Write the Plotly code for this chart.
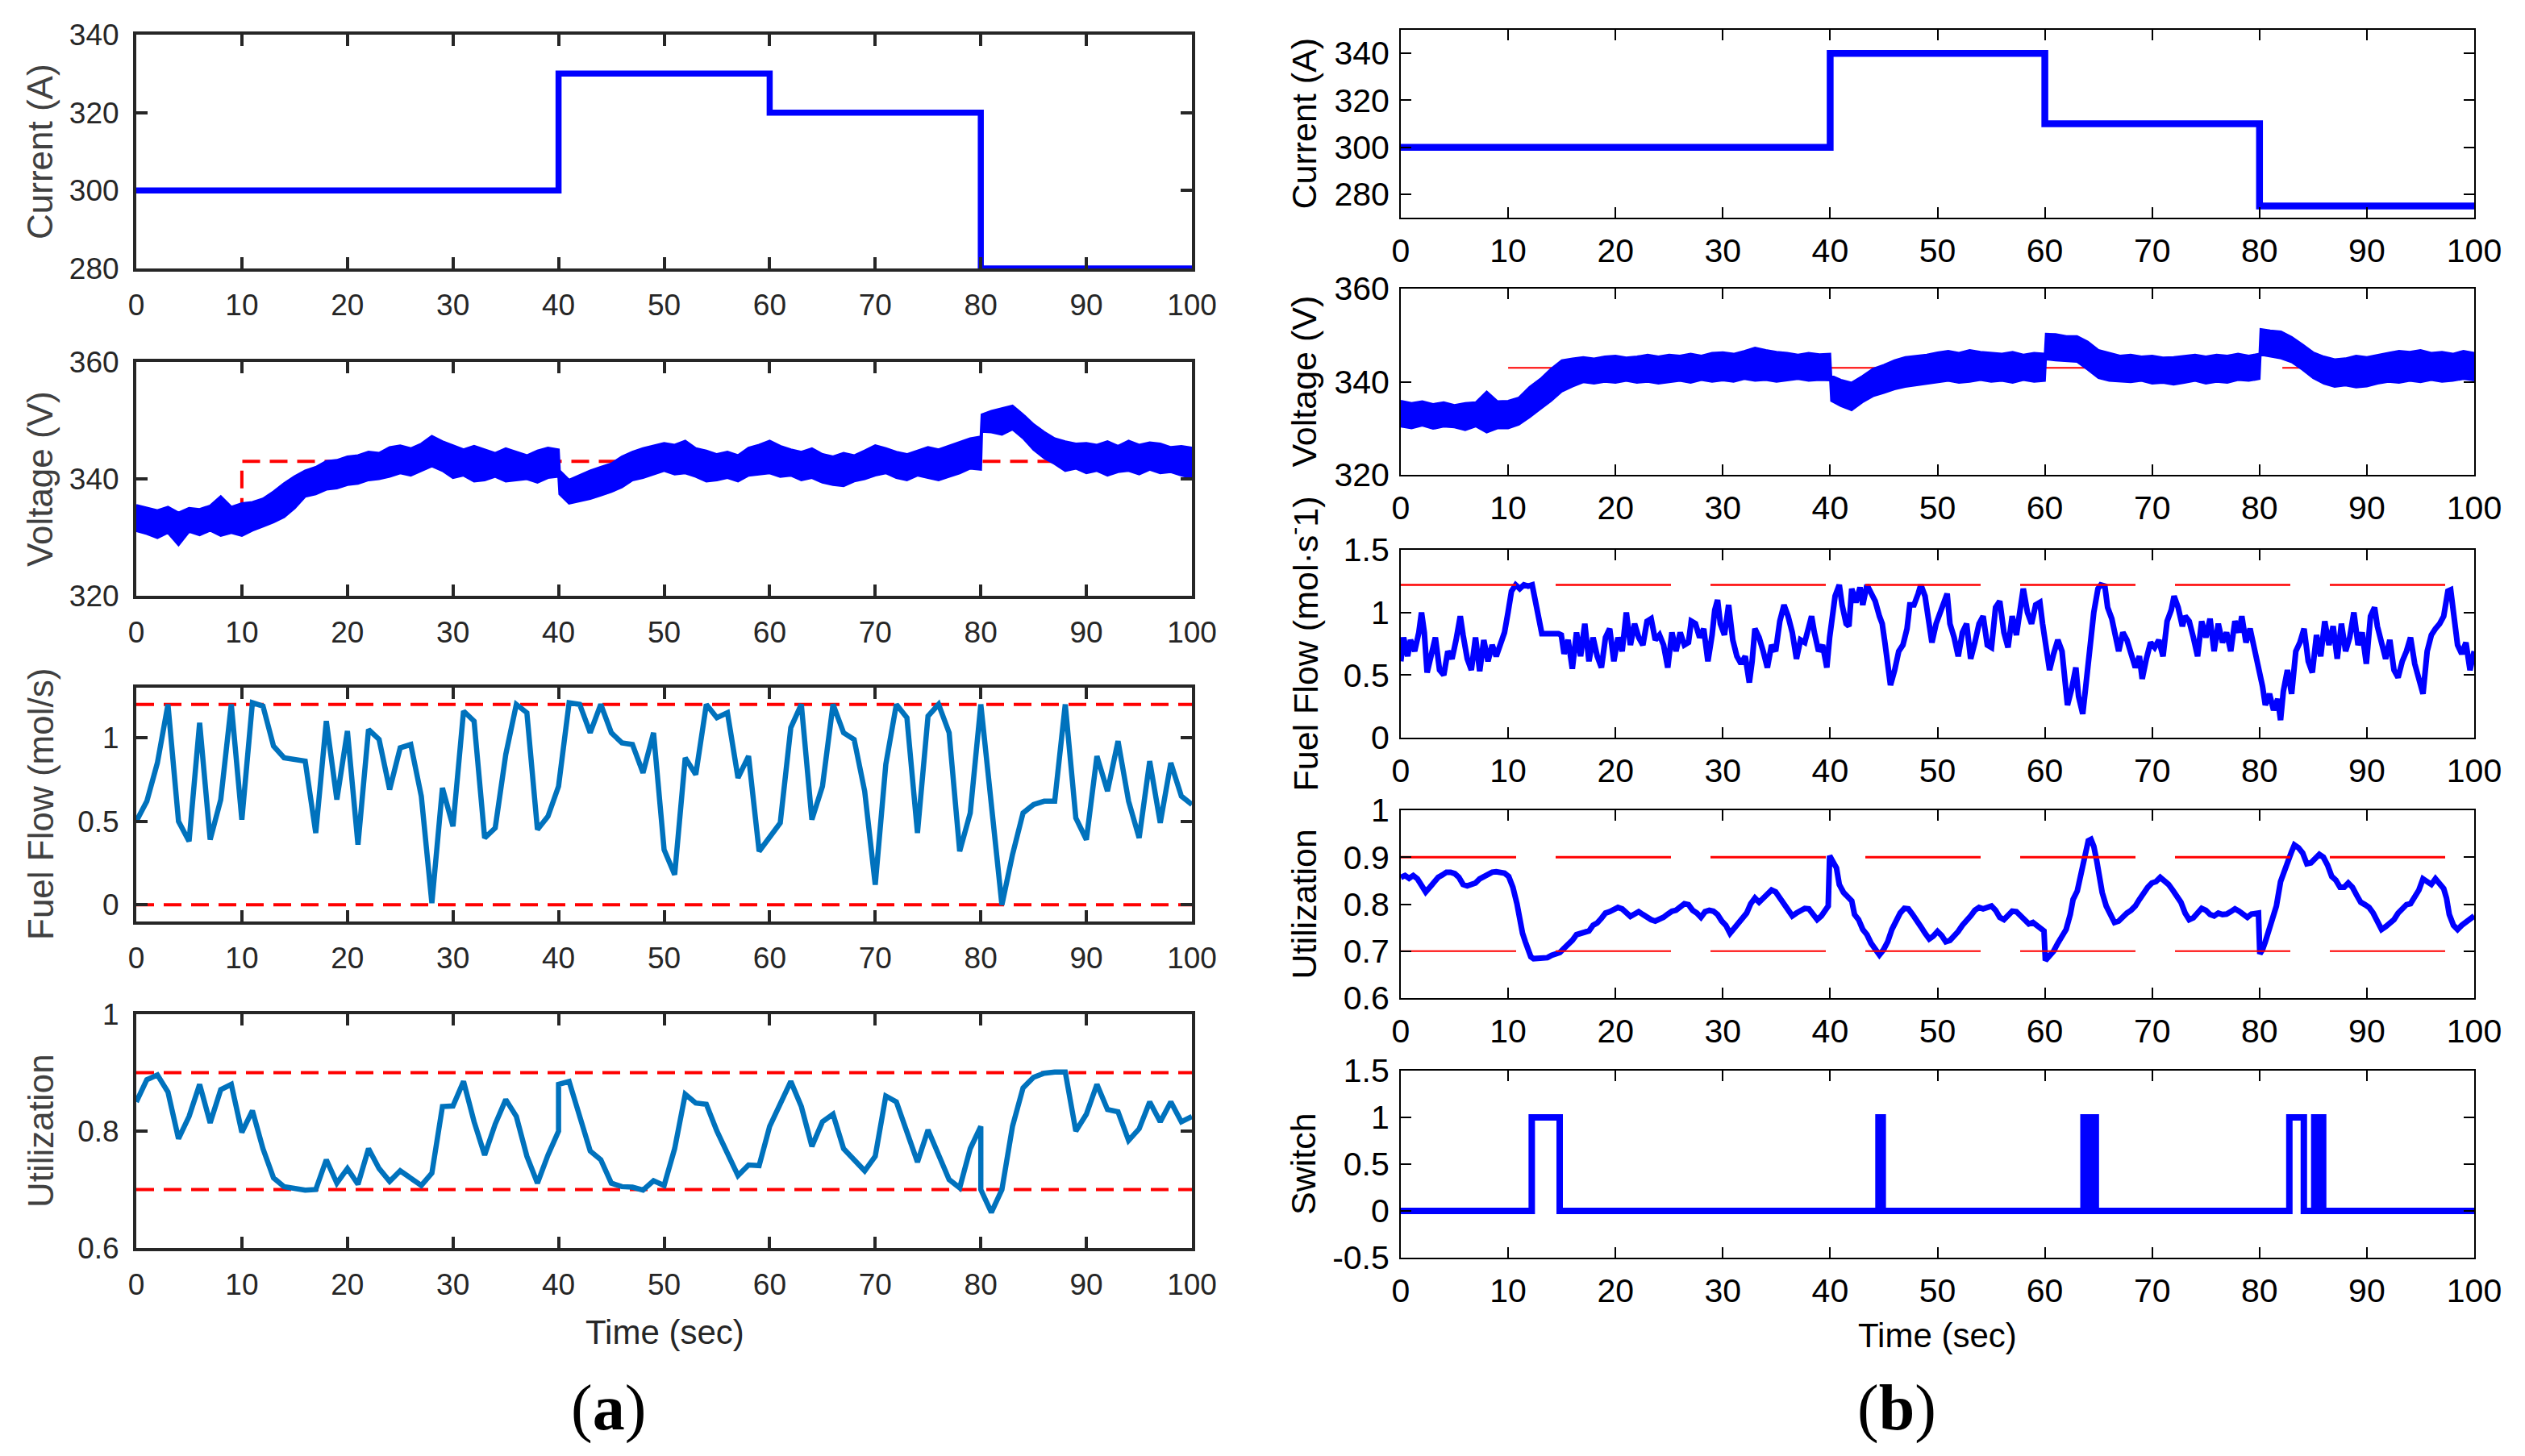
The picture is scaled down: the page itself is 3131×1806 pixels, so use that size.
import plotly.graph_objects as go

# ---------------- data ----------------
# (a) current steps (A)
cur_a_t = [0, 40, 60, 80, 100]
cur_a_v = [300, 330, 320, 280, 280]
# (b) current steps (A)
cur_b_t = [0, 40, 60, 80, 100]
cur_b_v = [300, 340, 310, 275, 275]

# voltage reference (V)
volt_ref_a_t = [0, 10, 10, 100]
volt_ref_a_v = [333, 333, 343, 343]
volt_ref_b_t = [10, 100]
volt_ref_b_v = [343, 343]

# voltage band envelopes: (time, lower, upper)
volt_a = [
    (0, 331.1, 335.5), (1, 330.6, 335.0), (2, 329.9, 334.6), (3, 330.8, 335.2), (4, 328.7, 334.2),
    (5, 331.0, 335.0), (6, 330.4, 334.8), (7, 331.2, 335.4), (8, 330.3, 337.0), (9, 330.8, 335.2),
    (10, 330.3, 335.8), (11, 331.2, 336.0), (12, 331.9, 336.6), (13, 332.6, 337.8), (14, 333.5, 339.2),
    (15, 335.0, 340.4), (16, 337.0, 341.4), (17, 337.4, 342.0), (18, 338.2, 343.0), (19, 338.4, 343.2),
    (20, 339.0, 343.8), (21, 339.2, 344.0), (22, 339.8, 344.6), (23, 340.0, 344.4), (24, 340.4, 345.4),
    (25, 341.0, 345.7), (26, 340.6, 345.2), (27, 341.4, 346.0), (28, 342.2, 347.3), (29, 341.4, 346.4),
    (30, 340.2, 345.7), (31, 340.6, 345.0), (32, 339.6, 345.6), (33, 339.8, 345.0), (34, 340.4, 344.4),
    (35, 339.6, 345.2), (36, 339.8, 344.6), (37, 340.0, 344.0), (38, 339.4, 344.8), (39, 340.2, 345.3),
    (40, 340.4, 345.0), (40.1, 337.4, 341.4), (41, 335.8, 339.8), (42, 336.2, 340.6), (43, 336.6, 341.4),
    (44, 337.2, 342.0), (45, 337.8, 342.6), (46, 338.6, 343.8), (47, 339.8, 344.6), (48, 340.2, 345.2),
    (49, 340.8, 345.6), (50, 341.4, 346.1), (51, 340.8, 345.8), (52, 341.0, 346.5), (53, 340.4, 345.2),
    (54, 339.6, 344.8), (55, 339.8, 344.2), (56, 340.2, 344.6), (57, 339.6, 344.0), (58, 340.6, 345.3),
    (59, 340.8, 345.8), (60, 341.0, 346.5), (61, 340.4, 345.6), (62, 340.6, 345.0), (63, 339.8, 344.6),
    (64, 340.2, 345.2), (65, 339.4, 344.2), (66, 339.0, 343.8), (67, 338.8, 344.4), (68, 339.6, 344.0),
    (69, 340.0, 344.8), (70, 340.6, 345.7), (71, 341.0, 345.2), (72, 340.2, 344.6), (73, 339.8, 344.2),
    (74, 340.6, 344.8), (75, 340.2, 345.4), (76, 339.8, 345.0), (77, 340.4, 345.6), (78, 341.0, 346.2),
    (79, 341.8, 346.9), (80, 341.6, 347.2), (80.1, 348.1, 351.0), (81, 348.0, 351.6), (82, 347.6, 352.0),
    (83, 348.5, 352.5), (84, 347.0, 351.0), (85, 345.0, 349.3), (86, 343.6, 348.0), (87, 342.6, 346.9),
    (88, 341.4, 346.4), (89, 341.8, 346.0), (90, 341.0, 346.1), (91, 341.4, 345.8), (92, 340.6, 346.4),
    (93, 341.2, 345.6), (94, 341.4, 346.5), (95, 340.8, 345.8), (96, 341.6, 346.2), (97, 341.0, 346.0),
    (98, 341.2, 345.4), (99, 340.6, 345.6), (100, 340.2, 345.3),
]
volt_b = [
    (0, 330.4, 335.9), (1, 330.0, 335.4), (2, 330.6, 335.8), (3, 329.9, 335.2), (4, 330.4, 335.6),
    (5, 330.2, 335.0), (6, 329.6, 335.4), (7, 330.4, 335.6), (8, 329.1, 337.9), (9, 330.0, 335.8),
    (10, 330.0, 335.9), (11, 330.8, 336.6), (12, 332.4, 338.9), (13, 334.2, 340.6), (14, 335.9, 342.8),
    (15, 337.9, 344.6), (16, 339.0, 345.0), (17, 339.9, 345.3), (18, 339.6, 345.0), (19, 340.0, 345.4),
    (20, 339.8, 345.6), (21, 340.2, 345.2), (22, 339.8, 345.4), (23, 340.0, 345.8), (24, 339.6, 345.4),
    (25, 339.9, 345.8), (26, 340.2, 345.6), (27, 339.8, 346.0), (28, 340.4, 345.6), (29, 340.0, 346.2),
    (30, 340.3, 346.3), (31, 340.0, 346.0), (32, 340.6, 346.6), (33, 340.2, 347.3), (34, 340.4, 346.8),
    (35, 340.0, 346.4), (36, 340.3, 346.2), (37, 340.6, 345.8), (38, 340.2, 346.2), (39, 340.4, 345.9),
    (40, 340.3, 346.0), (40.1, 335.9, 341.3), (41, 334.8, 340.4), (42, 333.9, 339.8), (43, 335.6, 341.2),
    (44, 336.9, 342.8), (45, 337.6, 343.6), (46, 338.4, 344.6), (47, 338.9, 345.3), (48, 339.2, 345.6),
    (49, 339.6, 345.8), (50, 339.9, 346.3), (51, 340.2, 346.6), (52, 339.8, 346.2), (53, 340.0, 346.8),
    (54, 340.4, 346.4), (55, 340.0, 346.2), (56, 340.2, 346.0), (57, 339.8, 346.4), (58, 340.4, 345.8),
    (59, 340.0, 346.2), (60, 340.2, 346.0), (60.1, 344.8, 350.3), (61, 344.6, 350.2), (62, 344.4, 349.8),
    (63, 344.3, 349.8), (64, 342.6, 348.6), (65, 340.8, 346.8), (66, 340.2, 346.2), (67, 340.0, 345.6),
    (68, 339.9, 345.8), (69, 340.2, 345.4), (70, 339.6, 345.6), (71, 339.8, 345.2), (72, 339.4, 345.3),
    (73, 339.8, 345.6), (74, 340.2, 345.8), (75, 339.6, 345.4), (76, 340.0, 345.8), (77, 339.8, 345.6),
    (78, 340.4, 346.0), (79, 340.2, 345.6), (80, 340.6, 346.0), (80.1, 345.8, 351.3), (81, 345.4, 351.0),
    (82, 345.0, 350.8), (83, 344.2, 349.6), (84, 342.6, 348.0), (85, 340.8, 346.3), (86, 339.6, 345.4),
    (87, 338.9, 344.8), (88, 339.2, 345.0), (89, 338.8, 345.6), (90, 339.0, 345.3), (91, 339.6, 345.8),
    (92, 340.0, 346.2), (93, 339.8, 346.6), (94, 340.2, 346.4), (95, 339.9, 346.8), (96, 340.4, 346.2),
    (97, 340.0, 346.4), (98, 340.2, 346.0), (99, 340.6, 346.6), (100, 340.3, 346.2),
]

# (a) fuel flow (mol/s), one sample per second
fuel_a_t = list(range(0, 101))
fuel_a_v = [
    0.50, 0.62, 0.85, 1.20, 0.50, 0.38, 1.09, 0.39, 0.63, 1.20,
    0.51, 1.21, 1.19, 0.95, 0.88, 0.87, 0.86, 0.43, 1.10, 0.63,
    1.04, 0.36, 1.05, 0.99, 0.69, 0.94, 0.96, 0.65, 0.01, 0.70,
    0.47, 1.16, 1.10, 0.40, 0.46, 0.90, 1.20, 1.15, 0.45, 0.53,
    0.71, 1.21, 1.20, 1.03, 1.20, 1.03, 0.97, 0.96, 0.79, 1.03,
    0.33, 0.18, 0.88, 0.78, 1.20, 1.12, 1.15, 0.76, 0.89, 0.32,
    0.41, 0.49, 1.06, 1.20, 0.51, 0.71, 1.20, 1.03, 0.99, 0.68,
    0.12, 0.84, 1.20, 1.12, 0.43, 1.13, 1.20, 1.03, 0.32, 0.55,
    1.20, 0.60, 0.00, 0.30, 0.55, 0.60, 0.62, 0.62, 1.20, 0.52,
    0.39, 0.89, 0.68, 0.98, 0.62, 0.40, 0.86, 0.49, 0.85, 0.65,
    0.60,
]
fuel_a_limits = [0.0, 1.2]

# (a) utilization, one sample per second (steps at 40 s and 80 s)
util_a_t = (list(range(0, 41)) + [40] + list(range(41, 81)) + [80] + list(range(81, 101)))
util_a_v = [
    0.850, 0.888, 0.896, 0.867, 0.787, 0.825, 0.880, 0.814, 0.871, 0.880,
    0.798, 0.835, 0.770, 0.720, 0.705, 0.703, 0.699, 0.700, 0.751, 0.711,
    0.736, 0.709, 0.770, 0.736, 0.714, 0.732, 0.720, 0.707, 0.728, 0.842,
    0.843, 0.885, 0.816, 0.759, 0.812, 0.854, 0.825, 0.757, 0.711, 0.759,
    0.800, 0.880,
    0.885, 0.825, 0.766, 0.751, 0.711, 0.705, 0.704, 0.699, 0.715,
    0.707, 0.770, 0.863, 0.848, 0.846, 0.800, 0.762, 0.724, 0.742, 0.741,
    0.808, 0.846, 0.885, 0.842, 0.774, 0.816, 0.829, 0.770, 0.751, 0.732,
    0.757, 0.860, 0.850, 0.795, 0.747, 0.802, 0.762, 0.717, 0.703, 0.770,
    0.808, 0.700,
    0.661, 0.700, 0.808, 0.874, 0.892, 0.899, 0.901, 0.901, 0.800,
    0.829, 0.880, 0.837, 0.833, 0.784, 0.804, 0.850, 0.816, 0.850, 0.816,
    0.825,
]
util_a_limits = [0.7, 0.9]

# (b) fuel flow (mol/s): (time, value)
fuel_b = [
    (0.0, 0.61), (0.26, 0.80), (0.64, 0.65), (0.90, 0.78), (1.29, 0.69), (1.68, 0.84), (1.93, 1.00),
    (2.19, 0.84), (2.45, 0.52), (2.84, 0.65), (3.22, 0.80), (3.61, 0.54), (4.0, 0.50), (4.38, 0.69),
    (4.77, 0.63), (5.15, 0.78), (5.54, 0.97), (5.80, 0.82), (6.19, 0.63), (6.57, 0.54), (6.96, 0.80),
    (7.35, 0.53), (7.73, 0.78), (8.12, 0.61), (8.51, 0.74), (8.89, 0.65), (9.28, 0.76), (9.66, 0.84),
    (9.99, 1.00), (10.31, 1.17), (10.70, 1.22), (11.08, 1.19), (11.47, 1.22), (11.86, 1.21),
    (12.24, 1.22), (12.63, 1.06), (12.89, 0.91), (13.14, 0.83), (14.69, 0.83), (14.95, 0.82),
    (15.21, 0.67), (15.59, 0.78), (15.98, 0.55), (16.37, 0.84), (16.75, 0.65), (17.14, 0.91),
    (17.53, 0.61), (17.91, 0.80), (18.30, 0.65), (18.69, 0.56), (19.07, 0.80), (19.46, 0.87),
    (19.85, 0.61), (20.23, 0.80), (20.62, 0.69), (21.01, 1.00), (21.39, 0.74), (21.78, 0.91),
    (22.16, 0.80), (22.55, 0.74), (22.94, 0.93), (23.32, 0.95), (23.71, 0.78), (24.10, 0.82),
    (24.48, 0.74), (24.87, 0.56), (25.26, 0.84), (25.64, 0.69), (26.03, 0.84), (26.42, 0.74),
    (26.80, 0.76), (27.06, 0.93), (27.45, 0.91), (27.84, 0.80), (28.22, 0.87), (28.61, 0.61),
    (29.00, 0.82), (29.25, 1.02), (29.51, 1.10), (29.77, 0.91), (30.15, 0.82), (30.54, 1.06),
    (30.93, 0.78), (31.31, 0.65), (31.70, 0.59), (32.09, 0.65), (32.47, 0.44), (32.73, 0.61),
    (32.99, 0.87), (33.38, 0.80), (33.76, 0.69), (34.15, 0.56), (34.54, 0.74), (34.92, 0.69),
    (35.31, 0.93), (35.70, 1.06), (36.08, 0.97), (36.47, 0.84), (36.86, 0.63), (37.24, 0.78),
    (37.63, 0.76), (38.02, 0.89), (38.27, 0.97), (38.53, 0.84), (38.92, 0.69), (39.30, 0.74),
    (39.69, 0.56), (39.95, 0.80), (40.21, 0.95), (40.46, 1.13), (40.85, 1.22), (41.11, 1.06),
    (41.49, 0.91), (41.75, 0.89), (42.01, 1.19), (42.40, 1.08), (42.78, 1.20), (43.04, 1.06),
    (43.43, 1.22), (43.81, 1.15), (44.20, 1.09), (44.59, 0.97), (44.85, 0.91), (45.10, 0.76),
    (45.36, 0.56), (45.62, 0.42), (46.01, 0.54), (46.39, 0.69), (46.78, 0.74), (47.16, 0.87),
    (47.42, 1.06), (47.81, 1.06), (48.20, 1.15), (48.45, 1.22), (48.84, 1.13), (49.10, 0.95),
    (49.48, 0.76), (49.87, 0.91), (50.26, 1.00), (50.52, 1.09), (50.90, 1.15), (51.16, 0.91),
    (51.55, 0.80), (51.93, 0.65), (52.32, 0.84), (52.71, 0.91), (53.09, 0.63), (53.48, 0.76),
    (53.87, 0.91), (54.25, 0.97), (54.64, 0.74), (55.03, 0.72), (55.41, 1.04), (55.80, 1.09),
    (56.19, 0.84), (56.57, 0.72), (56.96, 0.97), (57.35, 0.82), (57.73, 1.06), (57.99, 1.19),
    (58.38, 1.00), (58.76, 0.91), (59.15, 1.06), (59.54, 1.08), (59.79, 0.91), (60.18, 0.69),
    (60.44, 0.54), (60.82, 0.67), (61.21, 0.78), (61.60, 0.69), (61.86, 0.44), (62.11, 0.26),
    (62.50, 0.39), (62.89, 0.56), (63.14, 0.33), (63.53, 0.19), (63.79, 0.39), (64.18, 0.74),
    (64.56, 1.00), (64.95, 1.19), (65.21, 1.22), (65.59, 1.21), (65.85, 1.04), (66.24, 0.95),
    (66.49, 0.84), (66.88, 0.69), (67.27, 0.84), (67.65, 0.78), (68.04, 0.67), (68.43, 0.56),
    (68.81, 0.65), (69.07, 0.47), (69.46, 0.63), (69.85, 0.76), (70.23, 0.72), (70.62, 0.78),
    (71.01, 0.65), (71.39, 0.93), (71.78, 1.02), (72.04, 1.13), (72.42, 1.04), (72.81, 0.89),
    (73.07, 0.97), (73.45, 0.93), (73.84, 0.80), (74.23, 0.65), (74.61, 0.93), (75.00, 0.80),
    (75.39, 0.95), (75.77, 0.69), (76.16, 0.91), (76.55, 0.76), (76.93, 0.84), (77.32, 0.69),
    (77.71, 0.93), (78.09, 0.84), (78.35, 0.97), (78.74, 0.76), (79.12, 0.87), (79.51, 0.72),
    (79.90, 0.56), (80.28, 0.41), (80.54, 0.26), (80.93, 0.35), (81.31, 0.22), (81.70, 0.31),
    (81.96, 0.14), (82.22, 0.37), (82.60, 0.54), (82.99, 0.35), (83.38, 0.69), (83.76, 0.76),
    (84.15, 0.87), (84.54, 0.61), (84.92, 0.52), (85.31, 0.82), (85.70, 0.65), (86.08, 0.93),
    (86.47, 0.74), (86.86, 0.89), (87.24, 0.63), (87.63, 0.91), (88.02, 0.69), (88.40, 0.80),
    (88.79, 1.00), (89.18, 0.74), (89.56, 0.84), (89.95, 0.59), (90.34, 0.97), (90.72, 1.04),
    (90.98, 0.89), (91.37, 0.76), (91.75, 0.63), (92.14, 0.78), (92.53, 0.54), (92.91, 0.48),
    (93.30, 0.61), (93.69, 0.69), (94.07, 0.80), (94.46, 0.59), (94.85, 0.46), (95.23, 0.35),
    (95.62, 0.69), (96.01, 0.82), (96.39, 0.87), (96.78, 0.91), (97.16, 0.97), (97.55, 1.17),
    (97.81, 1.18), (98.07, 1.02), (98.45, 0.74), (98.84, 0.67), (99.23, 0.76), (99.61, 0.54),
    (100.0, 0.69),
]
fuel_b_limit = 1.22

# (b) utilization: (time, value)
util_b = [
    (0.0, 0.857), (0.39, 0.861), (0.77, 0.855), (1.16, 0.861), (1.55, 0.854), (1.93, 0.842),
    (2.32, 0.826), (2.71, 0.836), (3.09, 0.848), (3.48, 0.857), (3.87, 0.862), (4.25, 0.868),
    (4.64, 0.868), (5.03, 0.865), (5.41, 0.857), (5.80, 0.842), (6.19, 0.839), (6.57, 0.841),
    (6.96, 0.845), (7.35, 0.854), (7.73, 0.859), (8.12, 0.865), (8.51, 0.868), (8.89, 0.869),
    (9.28, 0.868), (9.66, 0.866), (10.05, 0.859), (10.44, 0.836), (10.82, 0.801), (11.08, 0.767),
    (11.34, 0.738), (11.60, 0.720), (11.86, 0.703), (12.11, 0.688), (12.37, 0.684), (13.02, 0.684),
    (13.66, 0.686), (14.05, 0.691), (14.43, 0.694), (14.82, 0.697), (15.21, 0.706), (15.59, 0.714),
    (15.98, 0.723), (16.37, 0.735), (16.75, 0.738), (17.14, 0.741), (17.53, 0.743), (17.91, 0.755),
    (18.30, 0.760), (18.69, 0.770), (19.07, 0.781), (19.46, 0.784), (19.85, 0.790), (20.23, 0.793),
    (20.62, 0.790), (21.01, 0.781), (21.39, 0.774), (21.78, 0.779), (22.16, 0.784), (22.55, 0.778),
    (22.94, 0.771), (23.32, 0.767), (23.71, 0.764), (24.10, 0.767), (24.48, 0.772), (24.87, 0.779),
    (25.26, 0.785), (25.64, 0.787), (26.03, 0.793), (26.42, 0.801), (26.80, 0.799), (27.19, 0.787),
    (27.58, 0.781), (27.96, 0.772), (28.35, 0.784), (28.74, 0.787), (29.12, 0.785), (29.51, 0.778),
    (29.90, 0.764), (30.28, 0.755), (30.67, 0.738), (31.06, 0.750), (31.44, 0.761), (31.83, 0.770),
    (32.22, 0.781), (32.60, 0.801), (32.99, 0.813), (33.38, 0.804), (33.76, 0.813), (34.15, 0.822),
    (34.54, 0.830), (34.92, 0.826), (35.31, 0.813), (35.70, 0.804), (36.08, 0.787), (36.47, 0.775),
    (36.86, 0.781), (37.24, 0.787), (37.63, 0.791), (38.02, 0.790), (38.40, 0.778), (38.79, 0.767),
    (39.18, 0.775), (39.56, 0.787), (39.82, 0.796), (39.95, 0.903), (40.21, 0.894), (40.59, 0.877),
    (40.85, 0.842), (41.24, 0.825), (41.62, 0.816), (42.01, 0.807), (42.27, 0.778), (42.65, 0.767),
    (43.04, 0.746), (43.43, 0.735), (43.81, 0.717), (44.20, 0.706), (44.59, 0.692), (44.97, 0.703),
    (45.36, 0.720), (45.75, 0.746), (46.13, 0.767), (46.52, 0.781), (46.91, 0.791), (47.29, 0.790),
    (47.68, 0.778), (48.07, 0.767), (48.45, 0.752), (48.84, 0.738), (49.23, 0.726), (49.61, 0.732),
    (50.00, 0.742), (50.39, 0.733), (50.77, 0.720), (51.16, 0.723), (51.55, 0.732), (51.93, 0.742),
    (52.32, 0.755), (52.71, 0.764), (53.09, 0.775), (53.48, 0.787), (53.87, 0.793), (54.25, 0.790),
    (54.64, 0.793), (55.03, 0.796), (55.41, 0.787), (55.80, 0.772), (56.19, 0.767), (56.57, 0.778),
    (56.96, 0.785), (57.35, 0.784), (57.73, 0.775), (58.12, 0.767), (58.51, 0.758), (58.89, 0.761),
    (59.28, 0.755), (59.66, 0.746), (59.92, 0.743), (60.05, 0.680), (60.44, 0.691), (60.82, 0.700),
    (61.21, 0.717), (61.60, 0.732), (61.98, 0.746), (62.37, 0.778), (62.63, 0.810), (63.02, 0.828),
    (63.27, 0.854), (63.53, 0.891), (63.79, 0.920), (64.05, 0.935), (64.30, 0.938), (64.56, 0.923),
    (64.82, 0.894), (65.08, 0.857), (65.34, 0.825), (65.72, 0.796), (66.11, 0.778), (66.49, 0.761),
    (66.88, 0.764), (67.27, 0.775), (67.65, 0.781), (68.04, 0.787), (68.43, 0.796), (68.81, 0.810),
    (69.20, 0.825), (69.59, 0.836), (69.97, 0.845), (70.36, 0.848), (70.75, 0.857), (71.13, 0.851),
    (71.52, 0.842), (71.91, 0.830), (72.29, 0.819), (72.68, 0.804), (73.07, 0.781), (73.45, 0.767),
    (73.84, 0.771), (74.23, 0.781), (74.61, 0.791), (75.00, 0.787), (75.39, 0.778), (75.77, 0.775),
    (76.16, 0.781), (76.55, 0.778), (76.93, 0.779), (77.32, 0.784), (77.71, 0.790), (78.09, 0.785),
    (78.48, 0.778), (78.87, 0.772), (79.25, 0.779), (79.64, 0.781), (79.90, 0.781), (80.03, 0.694),
    (80.28, 0.703), (80.54, 0.720), (80.80, 0.738), (81.19, 0.761), (81.57, 0.796), (81.96, 0.848),
    (82.22, 0.868), (82.60, 0.888), (82.99, 0.912), (83.25, 0.926), (83.63, 0.920), (84.02, 0.909),
    (84.41, 0.886), (84.79, 0.888), (85.18, 0.897), (85.57, 0.906), (85.95, 0.900), (86.34, 0.883),
    (86.73, 0.859), (87.11, 0.851), (87.50, 0.836), (87.89, 0.836), (88.27, 0.845), (88.66, 0.836),
    (89.05, 0.819), (89.43, 0.804), (89.82, 0.799), (90.21, 0.793), (90.59, 0.781), (90.98, 0.761),
    (91.37, 0.746), (91.75, 0.752), (92.14, 0.758), (92.53, 0.767), (92.91, 0.781), (93.30, 0.790),
    (93.69, 0.799), (94.07, 0.801), (94.46, 0.813), (94.85, 0.830), (95.23, 0.854), (95.62, 0.848),
    (96.01, 0.842), (96.39, 0.854), (96.78, 0.845), (97.16, 0.833), (97.42, 0.813), (97.68, 0.778),
    (98.07, 0.755), (98.45, 0.746), (98.84, 0.755), (99.23, 0.761), (99.61, 0.767), (100.0, 0.775),
]
util_b_limits = [0.7, 0.9]

# (b) switch state
switch_t = [0, 12.2, 14.8, 44.5, 44.9, 63.6, 63.77, 63.85, 64.15, 64.25, 64.75,
            82.78, 84.13, 85.1, 85.45, 85.55, 85.93, 100]
switch_v = [0, 1, 0, 1, 0, 1, 0, 1, 0, 1, 0, 1, 0, 1, 0, 1, 0, 0]

# ---------------- styling ----------------
SANS = "Liberation Sans, Arial, Helvetica, sans-serif"
SERIF = "Liberation Serif, Times New Roman, serif"
MAT_BLUE = "#0072BD"
BLUE = "#0000FF"
RED = "#FF0000"
INK_A = "#262626"

fig = go.Figure()


def line(x, y, ax, color, width, dash=None, shape="linear"):
    fig.add_trace(go.Scatter(
        x=x, y=y, mode="lines", xaxis="x" + ax, yaxis="y" + ax,
        line=dict(color=color, width=width, dash=dash, shape=shape),
        hoverinfo="skip", showlegend=False,
    ))


def band(samples, ax, width):
    t = [s[0] for s in samples]
    lo = [s[1] for s in samples]
    hi = [s[2] for s in samples]
    fig.add_trace(go.Scatter(x=t, y=lo, mode="lines", xaxis="x" + ax, yaxis="y" + ax,
                             line=dict(color=BLUE, width=width), showlegend=False,
                             hoverinfo="skip"))
    fig.add_trace(go.Scatter(x=t, y=hi, mode="lines", xaxis="x" + ax, yaxis="y" + ax,
                             line=dict(color=BLUE, width=width), fill="tonexty",
                             fillcolor=BLUE, showlegend=False, hoverinfo="skip"))


DASH_A = "22px,12px"
DASH_B = "143px,49px"

# ---- panel (a) ----
line(cur_a_t, cur_a_v, "", BLUE, 7.5, shape="hv")

line(volt_ref_a_t, volt_ref_a_v, "2", RED, 4, dash=DASH_A)
band(volt_a, "2", 3)

for lim in fuel_a_limits:
    line([0, 100], [lim, lim], "3", RED, 4, dash=DASH_A)
line(fuel_a_t, fuel_a_v, "3", MAT_BLUE, 6.5)

for lim in util_a_limits:
    line([0, 100], [lim, lim], "4", RED, 4, dash=DASH_A)
line(util_a_t, util_a_v, "4", MAT_BLUE, 6.5)

# ---- panel (b) ----
line(cur_b_t, cur_b_v, "5", BLUE, 8.5, shape="hv")

line(volt_ref_b_t, volt_ref_b_v, "6", RED, 2, dash=DASH_B)
band(volt_b, "6", 2.5)

line([s[0] for s in fuel_b], [s[1] for s in fuel_b], "7", BLUE, 7)
line([0, 100], [fuel_b_limit, fuel_b_limit], "7", RED, 2.6, dash=DASH_B)

line([s[0] for s in util_b], [s[1] for s in util_b], "8", BLUE, 7)
line([0, 100], [util_b_limits[1], util_b_limits[1]], "8", RED, 2.8, dash=DASH_B)
line([0, 100], [util_b_limits[0], util_b_limits[0]], "8", RED, 1.8, dash=DASH_B)

line(switch_t, switch_v, "9", BLUE, 8, shape="hv")

# ---------------- axes ----------------
W, H = 3131, 1806
OX, OY = 8, 10   # page offset of the plot div inside the browser window


def px_x(a, b):
    return [(a - OX) / W, (b - OX) / W]


def px_y(top, bottom):
    return [1 - (bottom - OY) / H, 1 - (top - OY) / H]


def axis_a(**kw):
    d = dict(showline=True, linecolor=INK_A, linewidth=4, mirror="ticks",
             ticks="inside", ticklen=14, tickwidth=4, tickcolor=INK_A,
             showgrid=False, zeroline=False, automargin=False,
             tickfont=dict(family=SANS, size=37, color=INK_A))
    d.update(kw)
    return d


def axis_b(**kw):
    d = dict(showline=True, linecolor="black", linewidth=2, mirror="ticks",
             ticks="inside", ticklen=13, tickwidth=2, tickcolor="black",
             showgrid=False, zeroline=False, automargin=False,
             tickfont=dict(family=SANS, size=41, color="black"))
    d.update(kw)
    return d


XA = px_x(169, 1478)
XB = px_x(1737, 3068)
ya_px = [(45, 335), (451, 741), (855, 1145), (1260, 1550)]
yb_px = [(39, 272), (360, 591), (684, 917), (1007, 1240), (1330, 1562)]
ya_dom = [px_y(*p) for p in ya_px]
yb_dom = [px_y(*p) for p in yb_px]

layout_axes = {}
a_ranges = [
    dict(range=[280, 340], tickvals=[280, 300, 320, 340], layer="below traces"),
    dict(range=[320, 360], tickvals=[320, 340, 360]),
    dict(range=[-0.1, 1.3], tickvals=[0, 0.5, 1]),
    dict(range=[0.6, 1.0], tickvals=[0.6, 0.8, 1.0], ticktext=["0.6", "0.8", "1"]),
]
for i, (dom, yr) in enumerate(zip(ya_dom, a_ranges)):
    n = "" if i == 0 else str(i + 1)
    layout_axes["xaxis" + n] = axis_a(domain=XA, range=[0, 100], tickvals=list(range(0, 101, 10)),
                                     anchor="y" + n, ticklabelstandoff=10)
    layout_axes["yaxis" + n] = axis_a(domain=dom, anchor="x" + n, ticklabelstandoff=10, **yr)

b_ranges = [
    dict(range=[270, 350], tickvals=[280, 300, 320, 340]),
    dict(range=[320, 360], tickvals=[320, 340, 360]),
    dict(range=[0, 1.5], tickvals=[0, 0.5, 1, 1.5]),
    dict(range=[0.6, 1.0], tickvals=[0.6, 0.7, 0.8, 0.9, 1.0],
         ticktext=["0.6", "0.7", "0.8", "0.9", "1"]),
    dict(range=[-0.5, 1.5], tickvals=[-0.5, 0, 0.5, 1, 1.5],
         ticktext=["-0.5", "0", "0.5", "1", "1.5"]),
]
for j, (dom, yr) in enumerate(zip(yb_dom, b_ranges)):
    n = str(j + 5)
    layout_axes["xaxis" + n] = axis_b(domain=XB, range=[0, 100], tickvals=list(range(0, 101, 10)),
                                     anchor="y" + n, ticklabelstandoff=4)
    layout_axes["yaxis" + n] = axis_b(domain=dom, anchor="x" + n, ticklabelstandoff=4, **yr)

# ---------------- labels ----------------
annotations = []


def label(text, x_px, y_px, size, color, family=SANS, angle=0):
    annotations.append(dict(text=text, x=(x_px - OX) / W, y=1 - (y_px - OY) / H,
                            xref="paper", yref="paper",
                            xanchor="center", yanchor="middle", showarrow=False,
                            textangle=angle, font=dict(family=family, size=size, color=color)))


ylab_a = ["Current (A)", "Voltage (V)", "Fuel Flow (mol/s)", "Utilization"]
for txt, (top, bot) in zip(ylab_a, ya_px):
    label(txt, 50, (top + bot) / 2, 44, "#404040", angle=-90)

ylab_b = ["Current (A)", "Voltage (V)", "Fuel Flow (mol·s<sup>-</sup>1)", "Utilization", "Switch"]
for txt, (top, bot) in zip(ylab_b, yb_px):
    label(txt, 1616, (top + bot) / 2, 43, "black", angle=-90)

label("Time (sec)", 824, 1654, 42, INK_A)
label("Time (sec)", 2402, 1658, 42, "black")
label("(<b>a</b>)", 754, 1748, 80, "black", family=SERIF)
label("(<b>b</b>)", 2352, 1748, 80, "black", family=SERIF)

fig.update_layout(
    width=W, height=H,
    margin=dict(l=0, r=0, t=0, b=0, pad=0, autoexpand=False),
    paper_bgcolor="white", plot_bgcolor="white",
    showlegend=False,
    annotations=annotations,
    **layout_axes,
)

fig.write_html("out.html")
